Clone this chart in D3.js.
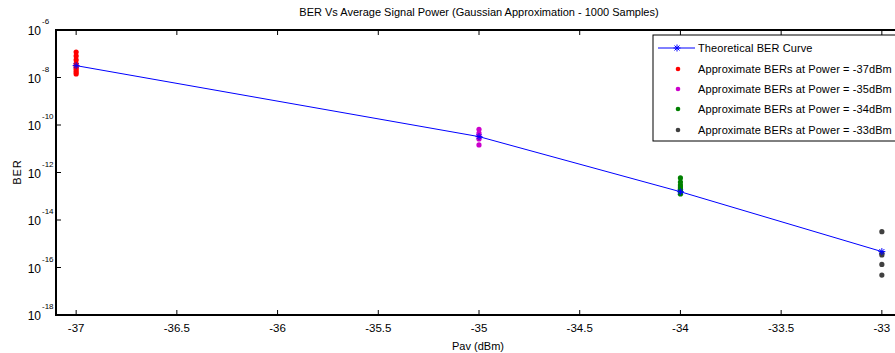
<!DOCTYPE html>
<html><head><meta charset="utf-8">
<script src="https://cdn.jsdelivr.net/npm/d3@7"></script>
<style>body{margin:0;background:#fff}svg{display:block;font-family:"Liberation Sans",Arial,sans-serif}</style>
</head><body><svg id="c" width="895" height="353"></svg>
<script>
const theoryX = [-37, -35, -34, -33];
const theoryLog = [-7.50, -10.49, -12.81, -15.33];
const pts37 = [-6.93, -7.09, -7.26, -7.43, -7.52, -7.60, -7.68, -7.77, -7.85];
const pts35 = [-10.18, -10.34, -10.46, -10.59, -10.84];
const pts34 = [-12.23, -12.40, -12.53, -12.61, -12.69, -12.78, -12.90];
const pts33 = [-14.49, -15.40, -15.47, -15.87, -16.32];
const xTicks = [-37, -36.5, -36, -35.5, -35, -34.5, -34, -33.5, -33];
const yTickExp = [-6, -8, -10, -12, -14, -16, -18];
const legendLabels = ["Theoretical BER Curve","Approximate BERs at Power = -37dBm","Approximate BERs at Power = -35dBm","Approximate BERs at Power = -34dBm","Approximate BERs at Power = -33dBm"];
const groups = [
  {x:-37, vals:pts37, color:"#ff0000"},
  {x:-35, vals:pts35, color:"#cc00cc"},
  {x:-34, vals:pts34, color:"#008000"},
  {x:-33, vals:pts33, color:"#404040"}
];

const svg = d3.select("#c");
const L=56, R=902, T=30, B=315;
const x = d3.scaleLinear().domain([-37.1,-32.9]).range([L,R]);
const y = d3.scaleLog().domain([1e-18,1e-6]).range([B,T]);

svg.append("text").attr("x",479).attr("y",16).attr("text-anchor","middle").attr("font-size",11).text("BER Vs Average Signal Power (Gaussian Approximation - 1000 Samples)");

const g = svg.append("g");
xTicks.forEach(t=>{
  g.append("line").attr("x1",x(t)).attr("x2",x(t)).attr("y1",B).attr("y2",B-5).attr("stroke","#000");
  g.append("line").attr("x1",x(t)).attr("x2",x(t)).attr("y1",T).attr("y2",T+5).attr("stroke","#000");
  g.append("text").attr("x",x(t)).attr("y",332).attr("text-anchor","middle").attr("font-size",11.5).text(t);
});
yTickExp.forEach(e=>{
  const yy=y(Math.pow(10,e));
  g.append("line").attr("x1",L).attr("x2",L+5).attr("y1",yy).attr("y2",yy).attr("stroke","#000");
  g.append("line").attr("x1",R).attr("x2",R-5).attr("y1",yy).attr("y2",yy).attr("stroke","#000");
  g.append("text").attr("x",41).attr("y",yy+5).attr("text-anchor","end").attr("font-size",12).text("10");
  g.append("text").attr("x",42).attr("y",yy-6).attr("font-size",8).text(e);
});

svg.append("line").attr("x1",L).attr("x2",L).attr("y1",T-1).attr("y2",B+1).attr("stroke","#000").attr("stroke-width",2);
svg.append("line").attr("x1",L-1).attr("x2",R).attr("y1",B).attr("y2",B).attr("stroke","#000").attr("stroke-width",2);
svg.append("line").attr("x1",L-1).attr("x2",R).attr("y1",T).attr("y2",T).attr("stroke","#000").attr("stroke-width",2);

svg.append("text").attr("x",478).attr("y",350).attr("text-anchor","middle").attr("font-size",11).text("Pav (dBm)");
svg.append("text").attr("transform","translate(21,172) rotate(-90)").attr("text-anchor","middle").attr("font-size",11).attr("letter-spacing",1).text("BER");

groups.forEach(gr=>{
  svg.append("g").selectAll("circle").data(gr.vals).join("circle")
    .attr("cx",x(gr.x)).attr("cy",d=>y(Math.pow(10,d))).attr("r",2.6).attr("fill",gr.color);
});

const tdata = theoryX.map((v,i)=>[v,theoryLog[i]]);
svg.append("path").datum(tdata).attr("fill","none").attr("stroke","#0000ff").attr("stroke-width",1)
  .attr("d",d3.line().x(d=>x(d[0])).y(d=>y(Math.pow(10,d[1]))));
function star(sel,cx,cy){
  const s=3.5;
  const p=`M${cx-s},${cy}L${cx+s},${cy}M${cx},${cy-s}L${cx},${cy+s}M${cx-2.5},${cy-2.5}L${cx+2.5},${cy+2.5}M${cx-2.5},${cy+2.5}L${cx+2.5},${cy-2.5}`;
  sel.append("path").attr("d",p).attr("stroke","#0000ff").attr("stroke-width",1).attr("fill","none");
}
tdata.forEach(d=>star(svg,x(d[0]),y(Math.pow(10,d[1]))));

const lg = svg.append("g");
lg.append("rect").attr("x",653).attr("y",35).attr("width",260).attr("height",106).attr("fill","#fff").attr("stroke","#000").attr("stroke-width",1);
const rowY = [48,69,89,109,130];
lg.append("line").attr("x1",658).attr("x2",695).attr("y1",rowY[0]).attr("y2",rowY[0]).attr("stroke","#0000ff");
star(lg,677,rowY[0]);
groups.forEach((gr,i)=>{
  lg.append("circle").attr("cx",678).attr("cy",rowY[i+1]).attr("r",2.3).attr("fill",gr.color);
});
legendLabels.forEach((t,i)=>{
  lg.append("text").attr("x",698).attr("y",rowY[i]+4).attr("font-size",11).attr("letter-spacing",0.1).text(t);
});
</script></body></html>
